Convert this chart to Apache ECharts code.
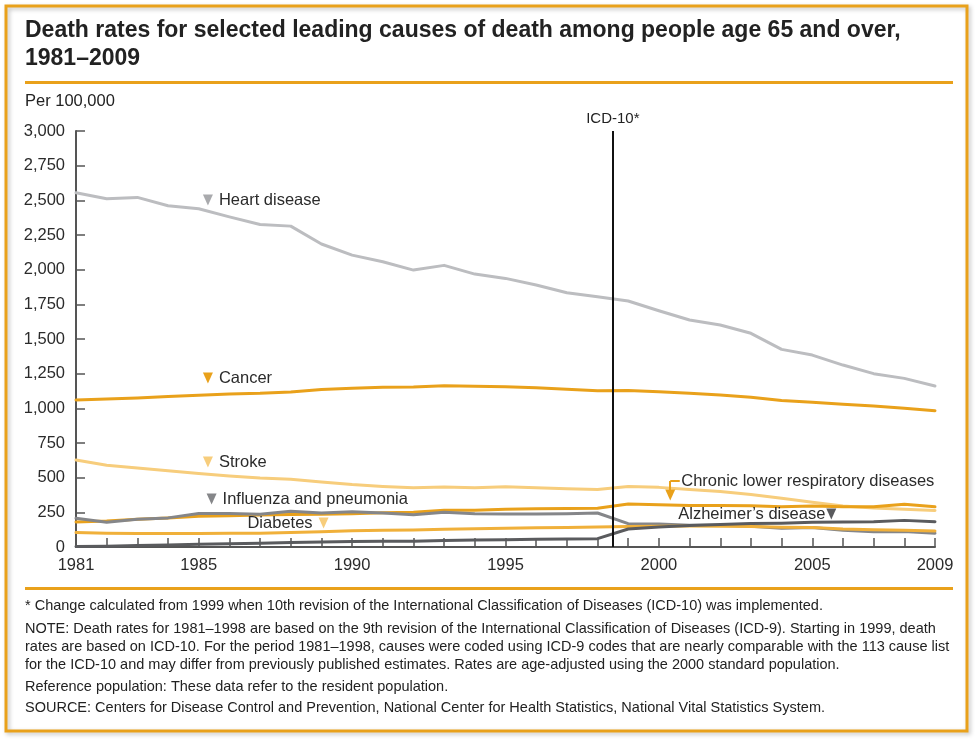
<!DOCTYPE html>
<html>
<head>
<meta charset="utf-8">
<script src="https://cdn.jsdelivr.net/npm/echarts@6/dist/echarts.min.js"></script>
<style>
html,body{margin:0;padding:0;background:#fff;}
#chart{width:975px;height:739px;}
</style>
</head>
<body>
<div id="chart"></div>
<script>
// ---- data (per 100,000, age 65+) ----
const years = [1981,1982,1983,1984,1985,1986,1987,1988,1989,1990,1991,1992,1993,1994,1995,1996,1997,1998,1999,2000,2001,2002,2003,2004,2005,2006,2007,2008,2009];
const heartDisease = [2555,2511,2521,2461,2439,2381,2326,2314,2185,2105,2057,1997,2031,1968,1937,1889,1834,1805,1774,1704,1637,1601,1541,1425,1384,1312,1250,1216,1161];
const cancer = [1060,1068,1075,1085,1095,1103,1108,1118,1135,1145,1152,1153,1162,1160,1156,1148,1138,1127,1128,1120,1108,1097,1080,1057,1043,1030,1017,1000,983];
const stroke = [627,590,570,550,530,512,497,488,468,450,437,428,432,428,435,428,420,415,437,430,415,400,378,352,322,295,282,272,264];
const clrd = [180,187,200,210,222,225,230,235,236,240,247,250,265,265,272,275,278,280,310,305,300,300,298,290,295,290,290,308,290];
const influenza = [207,178,200,210,242,242,236,258,245,255,245,232,250,240,238,238,240,245,168,165,157,157,150,135,140,120,110,112,100];
const diabetes = [105,100,98,98,98,100,100,105,110,118,120,122,128,132,135,138,140,145,148,150,152,150,148,142,140,130,125,120,115];
const alzheimers = [3,6,10,15,20,24,27,32,36,40,41,42,46,50,53,55,57,60,130,145,155,162,170,172,178,180,182,192,182];
const xLabelYears = [1981,1985,1990,1995,2000,2005,2009];
const icdYear = 1998.5;

const ORANGE = '#e9a11b';
const LIGHT_ORANGE = '#f7cd7c';
const MID_ORANGE = '#f0b03a';
const LIGHT_GRAY = '#bcbdc0';
const MID_GRAY = '#858689';
const DARK_GRAY = '#5a5b5e';
const FONT = 'Liberation Sans, Arial, sans-serif';
const LBL = 16.5;

function pairs(vals){ return years.map((y,i)=>[y, vals[i]]); }

function tri(coord, color, text, pos, dist){
  return {
    coord: coord, symbol: 'triangle', symbolRotate: 180, symbolSize: [10, 11],
    itemStyle: {color: color},
    label: {show: !!text, formatter: text || '', position: pos || 'right', distance: dist == null ? 6 : dist,
            color: '#2b2b2b', fontSize: LBL, fontFamily: FONT}
  };
}

function lineSeries(name, vals, color, extra){
  return Object.assign({
    name: name, type: 'line', data: pairs(vals), symbol: 'none',
    lineStyle: {color: color, width: 3, join: 'round', cap: 'round'},
    itemStyle: {color: color}, silent: true, animation: false, clip: false
  }, extra || {});
}

const chart = echarts.init(document.getElementById('chart'), null, {renderer: 'canvas'});

const footLines = [
  ['* Change calculated from 1999 when 10th revision of the International Classification of Diseases (ICD-10) was implemented.', 606],
  ['NOTE: Death rates for 1981\u20131998 are based on the 9th revision of the International Classification of Diseases (ICD-9). Starting in 1999, death', 629],
  ['rates are based on ICD-10. For the period 1981\u20131998, causes were coded using ICD-9 codes that are nearly comparable with the 113 cause list', 647],
  ['for the ICD-10 and may differ from previously published estimates. Rates are age-adjusted using the 2000 standard population.', 665],
  ['Reference population: These data refer to the resident population.', 687],
  ['SOURCE: Centers for Disease Control and Prevention, National Center for Health Statistics, National Vital Statistics System.', 708]
];

function txt(text, x, y, size, weight, align){
  return {type: 'text', x: x, y: y, silent: true,
    style: {text: text, fill: '#222', font: (weight||'normal') + ' ' + size + 'px ' + FONT,
            textAlign: align || 'left', textVerticalAlign: 'middle', align: align || 'left', verticalAlign: 'middle'}};
}

const graphics = [
  {type: 'rect', shape: {x: 6, y: 6, width: 961, height: 725}, silent: true,
   style: {fill: 'none', stroke: ORANGE, lineWidth: 3, shadowBlur: 4, shadowOffsetX: 2, shadowOffsetY: 2, shadowColor: 'rgba(0,0,0,0.25)'}},
  {type: 'rect', shape: {x: 25, y: 81, width: 928, height: 3}, silent: true, style: {fill: ORANGE}},
  {type: 'rect', shape: {x: 25, y: 587, width: 928, height: 3}, silent: true, style: {fill: ORANGE}},
  txt('Death rates for selected leading causes of death among people age 65 and over,', 25, 31, 23, 'bold'),
  txt('1981\u20132009', 25, 59, 23, 'bold'),
  txt('Per 100,000', 25, 101, 16.5)
];
footLines.forEach(f => graphics.push(txt(f[0], 25, f[1], 14.5)));

const option = {
  animation: false,
  backgroundColor: '#fff',
  grid: {left: 76, right: 40, top: 131, bottom: 192, containLabel: false},
  xAxis: {
    type: 'value', min: 1981, max: 2009, interval: 1,
    axisLine: {show: true, lineStyle: {color: '#555', width: 2}},
    axisTick: {show: true, inside: true, length: 9, lineStyle: {color: '#555', width: 1.5}},
    axisLabel: {show: true, margin: 10, color: '#2b2b2b', fontSize: LBL, fontFamily: FONT,
      formatter: v => xLabelYears.indexOf(Math.round(v)) >= 0 ? String(Math.round(v)) : ''},
    splitLine: {show: false}
  },
  yAxis: {
    type: 'value', min: 0, max: 3000, interval: 250,
    axisLine: {show: true, lineStyle: {color: '#555', width: 2}},
    axisTick: {show: true, inside: true, length: 9, lineStyle: {color: '#555', width: 1.5}},
    axisLabel: {show: true, margin: 11, color: '#2b2b2b', fontSize: LBL, fontFamily: FONT,
      formatter: v => v.toLocaleString('en-US')},
    splitLine: {show: false}
  },
  graphic: graphics,
  series: [
    lineSeries('Heart disease', heartDisease, LIGHT_GRAY, {
      markPoint: {silent: true, data: [tri([1985.3, 2502], '#a9aaad', 'Heart disease')]},
      markLine: {silent: true, symbol: ['none','none'],
        lineStyle: {color: '#111', width: 2, type: 'solid'},
        label: {show: true, position: 'end', formatter: 'ICD-10*', color: '#222', fontSize: 15, fontFamily: FONT, distance: 5},
        data: [[{coord: [icdYear, 0]}, {coord: [icdYear, 3000]}]]}
    }),
    lineSeries('Cancer', cancer, ORANGE, {
      markPoint: {silent: true, data: [tri([1985.3, 1218], ORANGE, 'Cancer')]}
    }),
    lineSeries('Stroke', stroke, LIGHT_ORANGE, {
      markPoint: {silent: true, data: [tri([1985.3, 613], LIGHT_ORANGE, 'Stroke')]}
    }),
    lineSeries('Chronic lower respiratory diseases', clrd, ORANGE, {
      markPoint: {silent: true, data: [
        tri([2000.37, 375], ORANGE, ''),
        {coord: [2000.68, 476], symbol: 'circle', symbolSize: 1, itemStyle: {color: 'rgba(0,0,0,0)'},
         label: {show: true, formatter: 'Chronic lower respiratory diseases', position: 'right', distance: 1,
                 color: '#2b2b2b', fontSize: LBL, fontFamily: FONT}}
      ]},
      markLine: {silent: true, symbol: ['none','none'], label: {show: false},
        lineStyle: {color: ORANGE, width: 2, type: 'solid'},
        data: [
          [{coord: [2000.37, 476]}, {coord: [2000.37, 400]}],
          [{coord: [2000.37, 476]}, {coord: [2000.68, 476]}]
        ]}
    }),
    lineSeries('Influenza and pneumonia', influenza, MID_GRAY, {
      markPoint: {silent: true, data: [tri([1985.42, 346], MID_GRAY, 'Influenza and pneumonia')]}
    }),
    lineSeries('Diabetes', diabetes, MID_ORANGE, {
      markPoint: {silent: true, data: [tri([1989.07, 173], LIGHT_ORANGE, 'Diabetes', 'left')]}
    }),
    lineSeries("Alzheimer's disease", alzheimers, DARK_GRAY, {
      markPoint: {silent: true, data: [tri([2005.62, 238], DARK_GRAY, "Alzheimer\u2019s disease", 'left', 1)]}
    })
  ]
};
chart.setOption(option);
</script>
</body>
</html>
